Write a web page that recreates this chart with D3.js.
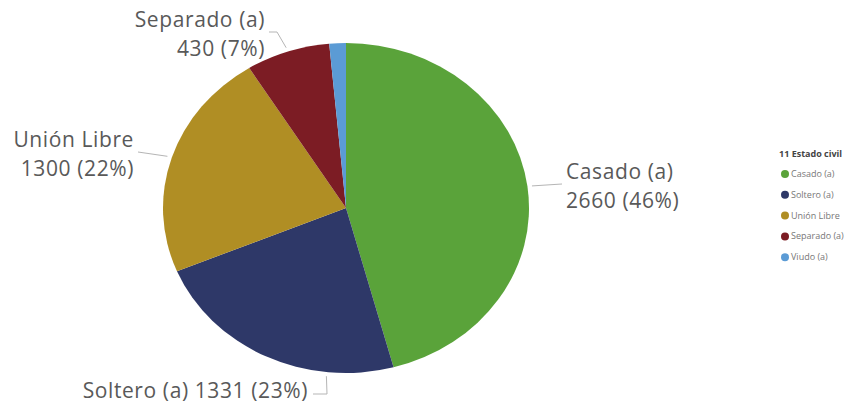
<!DOCTYPE html>
<html>
<head>
<meta charset="utf-8">
<script src="https://cdn.jsdelivr.net/npm/d3@7"></script>
<style>
  body { margin: 0; background: #fff; }
  svg text { font-family: "Open Sans", "Noto Sans", sans-serif; }
</style>
</head>
<body>
<div id="chart"></div>
<script>
// data
var categories = ["Casado (a)", "Soltero (a)", "Unión Libre", "Separado (a)", "Viudo (a)"];
var values = [2660, 1331, 1300, 430, 85];
var percents = ["46%", "23%", "22%", "7%", "1%"];
var colors = ["#5aa33a", "#2e3868", "#b08e24", "#7c1c24", "#5b9bd5"];
var legendTitle = "11 Estado civil";

var w = 862, h = 412;
var cx = 346, cy = 208;
var rx = 183, ry = 165;

var svg = d3.select("#chart").append("svg")
    .attr("width", w)
    .attr("height", h);

var data = categories.map(function(c, i) {
    return {name: c, value: values[i], pct: percents[i], color: colors[i]};
});

var pie = d3.pie().sort(null).value(function(d) { return d.value; });
var arcs = pie(data);
var arc = d3.arc().innerRadius(0).outerRadius(ry);

// pie is drawn squashed horizontally like the original
var g = svg.append("g")
    .attr("transform", "translate(" + [cx, cy] + ") scale(" + (rx / ry) + ",1)");

g.selectAll("path").data(arcs)
    .enter()
    .append("path")
    .attr("d", arc)
    .attr("fill", function(d) { return d.data.color; });

// point on the ellipse edge at an angle (degrees, clockwise from top)
function edge(deg, k) {
    var a = deg * Math.PI / 180;
    return [cx + rx * k * Math.sin(a), cy - ry * k * Math.cos(a)];
}

// label layout: anchor angle, leader path points after the start, text pos
var labels = [
    {i: 0, ang: 82.5, pts: [[562, 184]], x: 566, y: 179, anchor: "start", lines: 2},
    {i: 1, ang: 186, pts: [[327, 394], [313, 394]], x: 308, y: 398, anchor: "end", lines: 1},
    {i: 2, ang: 287.8, pts: [[138, 152]], x: 134, y: 147, anchor: "end", lines: 2},
    {i: 3, ang: 341.4, pts: [[277, 32], [269, 32]], x: 265, y: 27, anchor: "end", lines: 2}
];

var line = d3.line();

labels.forEach(function(l) {
    var d = data[l.i];
    var p = [edge(l.ang, 1.025)].concat(l.pts);
    svg.append("path")
        .attr("d", line(p))
        .attr("fill", "none")
        .attr("stroke", "#b5b5b5")
        .attr("stroke-width", 1);

    var t = svg.append("text")
        .attr("x", l.x)
        .attr("y", l.y)
        .attr("text-anchor", l.anchor)
        .attr("font-size", 21)
        .attr("letter-spacing", 0.6)
        .attr("fill", "#595959");
    if (l.lines == 2) {
        t.append("tspan").attr("x", l.x).text(d.name);
        t.append("tspan").attr("x", l.x).attr("dy", 29)
            .text(d3.format("d")(d.value) + " (" + d.pct + ")");
    } else {
        t.text(d.name + " " + d.value + " (" + d.pct + ")");
    }
});

// legend
var lg = svg.append("g").attr("transform", "translate(779,157)");
lg.append("text")
    .attr("font-size", 9)
    .attr("font-weight", "bold")
    .attr("fill", "#444")
    .text(legendTitle);

var items = lg.selectAll(".item").data(data)
    .enter()
    .append("g")
    .attr("class", "item")
    .attr("transform", function(d, i) { return "translate(0," + (17 + i * 20.8) + ")"; });

items.append("circle")
    .attr("cx", 6)
    .attr("cy", 0)
    .attr("r", 4)
    .attr("fill", function(d) { return d.color; });

items.append("text")
    .attr("x", 12)
    .attr("y", 3)
    .attr("font-size", 9)
    .attr("fill", "#777")
    .text(function(d) { return d.name; });
</script>
</body>
</html>
